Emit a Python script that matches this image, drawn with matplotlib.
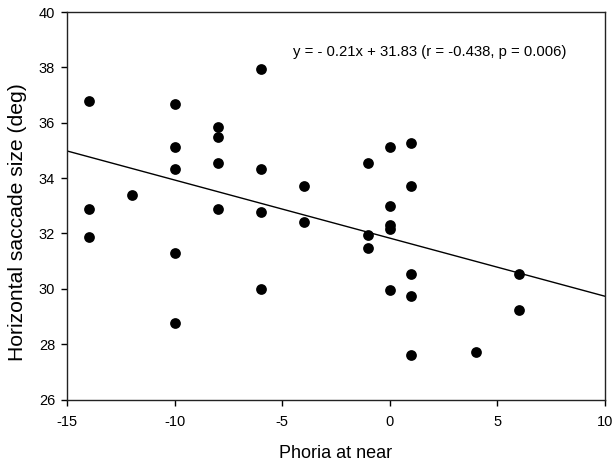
import numpy as np
import matplotlib
matplotlib.use("Agg")
import matplotlib.pyplot as plt

plt.rcParams['font.family'] = ['Liberation Sans', 'DejaVu Sans']
plt.rcParams['axes.unicode_minus'] = False

# phoria at near vs horizontal saccade size (deg)
phoria = [-14, -14, -14, -12, -10, -10, -10, -10, -10, -8, -8, -8, -8,
          -6, -6, -6, -6, -4, -4, -1, -1, -1, 0, 0, 0, 0, 0,
          1, 1, 1, 1, 1, 4, 6, 6]
saccade = [36.78, 32.90, 31.87, 33.38, 36.66, 35.13, 34.31, 31.28, 28.78,
           35.84, 35.48, 34.54, 32.90,
           37.95, 34.31, 32.78, 29.98, 33.72, 32.43,
           34.54, 31.96, 31.49, 35.13, 33.00, 32.29, 32.17, 29.94,
           35.25, 33.70, 30.54, 29.73, 27.59, 27.71, 30.54, 29.24]

slope = -0.21
intercept = 31.83
fit_label = "y = - 0.21x + 31.83 (r = -0.438, p = 0.006)"

fig = plt.figure(figsize=(6.13, 4.66), dpi=100)
ax = fig.add_axes([67 / 613, 1 - 399.5 / 466, (605 - 67) / 613, (399.5 - 12) / 466])

ax.scatter(phoria, saccade, s=60, color='black', zorder=3, linewidths=0)

xs = np.array([-15, 10])
ax.plot(xs, slope * xs + intercept, color='black', lw=1.0)

ax.set_xlim(-15, 10)
ax.set_ylim(26, 40)
ax.set_xticks(range(-15, 11, 5))
ax.set_yticks(range(26, 41, 2))
ax.tick_params(direction='out', length=4.5, width=1, labelsize=10.5)
ax.tick_params(axis='x', pad=7)
ax.tick_params(axis='y', pad=4)
for sp in ax.spines.values():
    sp.set_linewidth(1.0)
    sp.set_color('#222222')

ax.set_xlabel("Phoria at near", fontsize=13, va='center')
ax.xaxis.set_label_coords(0.5, -(453 - 399.5) / 387.5)
ax.set_ylabel("Horizontal saccade size (deg)", fontsize=15.2, va='center')
ax.yaxis.set_label_coords(-49 / 538, (399.5 - 222) / 387.5)
ax.text(1.87, 38.55, fit_label, ha='center', va='center', fontsize=10.75)

fig.savefig("out.png", dpi=100)
